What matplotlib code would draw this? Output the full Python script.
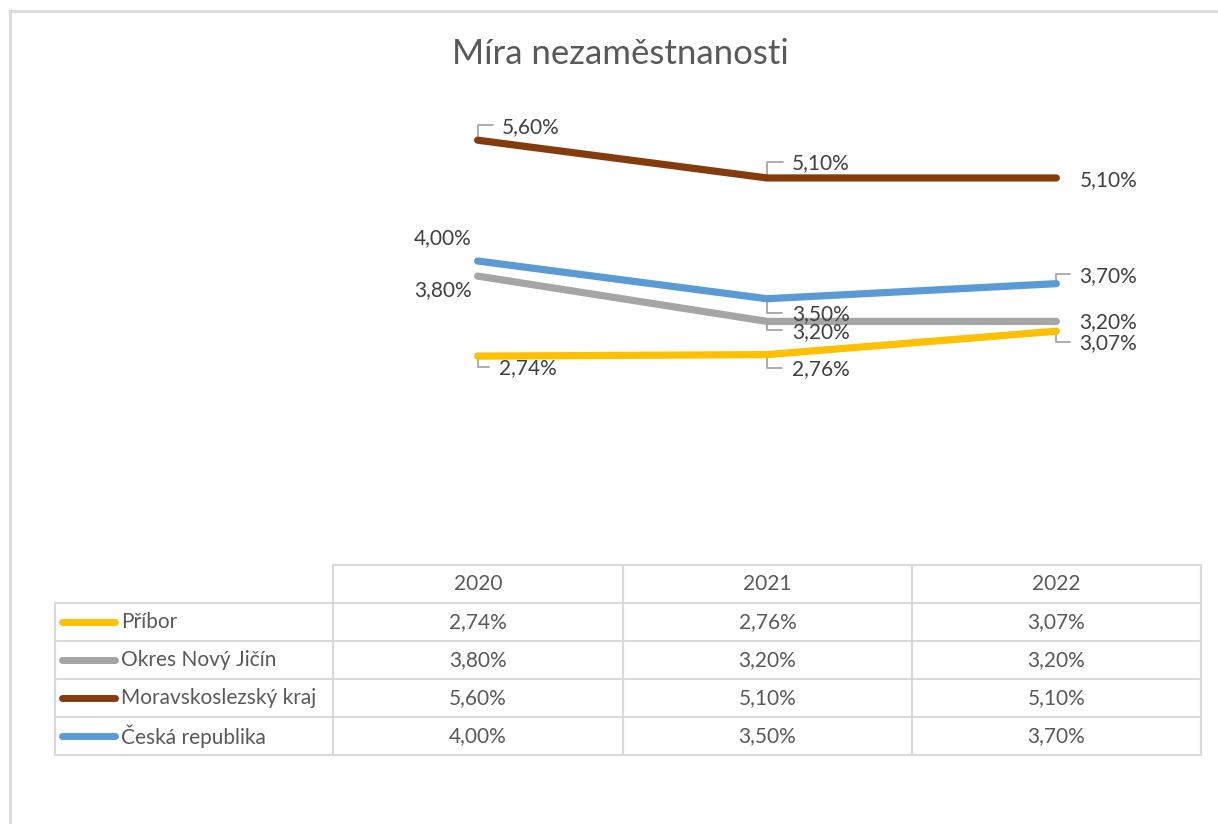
import matplotlib

matplotlib.use("Agg")
import matplotlib.pyplot as plt

plt.rcParams["font.family"] = ["Lato", "DejaVu Sans"]

# data
years = ["2020", "2021", "2022"]
series_names = ["Příbor", "Okres Nový Jičín", "Moravskoslezský kraj", "Česká republika"]
pribor = [2.74, 2.76, 3.07]
okres = [3.80, 3.20, 3.20]
msk = [5.60, 5.10, 5.10]
cr = [4.00, 3.50, 3.70]
series_values = [pribor, okres, msk, cr]
colors = ["#FFC000", "#A5A5A5", "#843C0C", "#5B9BD5"]

# label placement per point: (text dx, text dy, ha, leader end or None), in pixels
label_pos = [
    [(21, -12, "left", (11, -11)), (25, -14, "left", (15, -13)), (23, -12, "left", (14, -11))],
    [(-6, -14, "right", None), (25, -11, "left", (15, -9)), (23, -1, "left", None)],
    [(24, 13, "left", (15, 15)), (25, 15, "left", (16, 16)), (23, -2, "left", None)],
    [(-6, 23, "right", None), (25, -15, "left", (15, -14)), (23, 8, "left", (14, 10))],
]

W, H = 1218, 824
fig = plt.figure(figsize=(W / 100, H / 100), dpi=100)

# background layer in pixel coordinates: border + data table
bg = fig.add_axes([0, 0, 1, 1])
bg.set_xlim(0, W)
bg.set_ylim(H, 0)
bg.axis("off")

grid_c = "#D9D9D9"
bg.plot([10, 10], [11, H], color=grid_c, lw=2)
bg.plot([10, W], [11, 11], color=grid_c, lw=2)

col_x = [333, 623, 912, 1201]
row_y = [565, 603, 641, 679, 717, 755]
left_x = 55

bg.plot([col_x[0], col_x[-1]], [row_y[0], row_y[0]], color=grid_c, lw=1.5)
for y in row_y[1:]:
    bg.plot([left_x, col_x[-1]], [y, y], color=grid_c, lw=1.5)
for x in col_x:
    bg.plot([x, x], [row_y[0], row_y[-1]], color=grid_c, lw=1.5)
bg.plot([left_x, left_x], [row_y[1], row_y[-1]], color=grid_c, lw=1.5)

txt_c = "#595959"
fs = 15
for j, yr in enumerate(years):
    cx = (col_x[j] + col_x[j + 1]) / 2
    bg.text(cx, (row_y[0] + row_y[1]) / 2, yr, ha="center", va="center",
            fontsize=fs, color=txt_c)
for i, name in enumerate(series_names):
    cy = (row_y[i + 1] + row_y[i + 2]) / 2
    bg.plot([62, 115], [cy, cy], color=colors[i], lw=5, solid_capstyle="round")
    bg.text(121, cy, name, ha="left", va="center", fontsize=fs, color=txt_c)
    for j, v in enumerate(series_values[i]):
        cx = (col_x[j] + col_x[j + 1]) / 2
        bg.text(cx, cy, f"{v:.2f}%".replace(".", ","), ha="center", va="center",
                fontsize=fs, color=txt_c)

fig.text(620 / W, 1 - 54 / H, "Míra nezaměstnanosti", ha="center", va="center",
         fontsize=25, color="#595959")

# line chart
ax = fig.add_axes([333 / W, 1 - 563 / H, (1201 - 333) / W, (563 - 110) / H])
ax.set_xlim(-0.5, len(years) - 0.5)
ax.set_ylim(0, 6)
ax.axis("off")

x = list(range(len(years)))
for i, vals in enumerate(series_values):
    ax.plot(x, vals, color=colors[i], lw=5.2, solid_capstyle="round",
            solid_joinstyle="round", zorder=3 + i)
    for j, v in enumerate(vals):
        dx, dy, ha, lead = label_pos[i][j]
        ax.annotate(f"{v:.2f}%".replace(".", ","), xy=(j, v), xytext=(dx, dy),
                    textcoords="offset pixels", ha=ha, va="center",
                    fontsize=fs, color="#404040", zorder=10)
        if lead is not None:
            ax.annotate("", xy=(j, v), xytext=lead, textcoords="offset pixels",
                        arrowprops=dict(arrowstyle="-", color="#A6A6A6", lw=1.3,
                                        shrinkA=0, shrinkB=0,
                                        connectionstyle="angle,angleA=0,angleB=90,rad=0"),
                        zorder=2)

fig.savefig("out.png", dpi=100)
